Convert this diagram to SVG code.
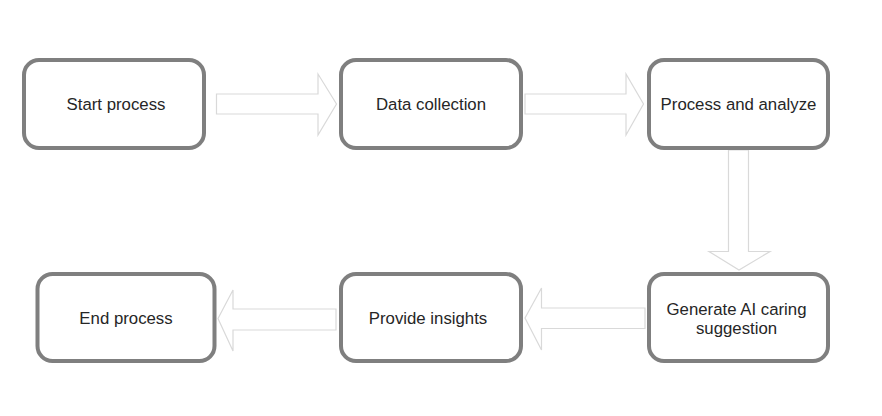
<svg xmlns="http://www.w3.org/2000/svg" width="882" height="416" viewBox="0 0 882 416">
  <style>
    .box { fill: #ffffff; stroke: #7f7f7f; stroke-width: 4; }
    .label { font-family: "Liberation Sans", Arial, sans-serif; font-size: 16.8px; fill: #262626; text-anchor: middle; }
    .flow { fill: #ffffff; stroke: #d9d9d9; stroke-width: 1.2; stroke-linejoin: miter; }
  </style>
  <rect width="882" height="416" fill="#ffffff"/>

  <g id="connectors">
    <!-- Start process to Data collection -->
    <path class="flow" d="M216.5,94 H318 V74 L336.5,104 L318,135 V114 H216.5 Z"/>
    <!-- Data collection to Process and analyze -->
    <path class="flow" d="M525,94 H626 V74 L643.5,104 L626,135 V114 H525 Z"/>
    <!-- Process and analyze down to Generate AI caring suggestion -->
    <path class="flow" d="M728.5,150 V251.5 H709 L739,270 L770,251.5 H748.5 V150 Z"/>
    <!-- Generate AI caring suggestion to Provide insights -->
    <path class="flow" d="M645,308 H541.5 V288 L525,318 L541.5,350 V328.5 H645 Z"/>
    <!-- Provide insights to End process -->
    <path class="flow" d="M336,309 H233 V290 L218,318.5 L233,351 V330 H336 Z"/>
  </g>

  <g id="start-process">
    <rect class="box" x="24" y="60" width="180" height="88" rx="15"/>
    <text class="label" x="116" y="110">Start process</text>
  </g>

  <g id="data-collection">
    <rect class="box" x="341" y="60" width="180" height="88" rx="15"/>
    <text class="label" x="431" y="110">Data collection</text>
  </g>

  <g id="process-and-analyze">
    <rect class="box" x="649" y="60" width="179" height="88" rx="15"/>
    <text class="label" x="738.5" y="110">Process and analyze</text>
  </g>

  <g id="generate-suggestion">
    <rect class="box" x="649" y="274" width="179" height="87" rx="15"/>
    <text class="label" x="736.5" y="315">Generate AI caring</text>
    <text class="label" x="736.5" y="334">suggestion</text>
  </g>

  <g id="provide-insights">
    <rect class="box" x="341" y="274" width="180" height="87" rx="15"/>
    <text class="label" x="428" y="324">Provide insights</text>
  </g>

  <g id="end-process">
    <rect class="box" x="37.5" y="274" width="177" height="87" rx="15"/>
    <text class="label" x="126" y="324">End process</text>
  </g>
</svg>
